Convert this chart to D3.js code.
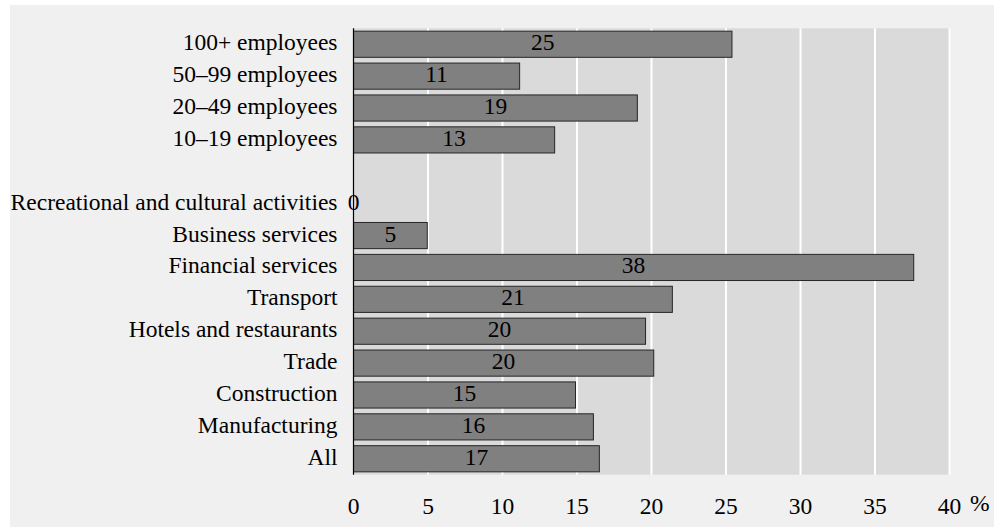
<!DOCTYPE html>
<html>
<head>
<meta charset="utf-8">
<script src="https://cdn.jsdelivr.net/npm/d3@7"></script>
<style>
  html, body { margin: 0; padding: 0; background: #ffffff; }
  svg { display: block; }
</style>
</head>
<body>
<svg id="chart" width="1006" height="530"></svg>
<script>
const categories = [
  "100+ employees",
  "50\u201399 employees",
  "20\u201349 employees",
  "10\u201319 employees",
  "",
  "Recreational and cultural activities",
  "Business services",
  "Financial services",
  "Transport",
  "Hotels and restaurants",
  "Trade",
  "Construction",
  "Manufacturing",
  "All"
];
const values = [25.4, 11.15, 19.05, 13.5, null, 0, 4.95, 37.6, 21.4, 19.6, 20.15, 14.9, 16.1, 16.5];
const valueLabels = ["25", "11", "19", "13", "", "0", "5", "38", "21", "20", "20", "15", "16", "17"];
const xTicks = [0, 5, 10, 15, 20, 25, 30, 35, 40];

const FONT = "'Liberation Serif', Tinos, 'Times New Roman', Times, 'DejaVu Serif', serif";
const FS = 23.5;
const svg = d3.select("#chart").style("font-family", FONT);
const pLeft = 353.5, pRight = 949.5, pTop = 28.3, pBottom = 474.7;

// outer panel
svg.append("rect").attr("x", 10).attr("y", 5).attr("width", 984).attr("height", 522).attr("fill", "#f0f0f0");

const x = d3.scaleLinear().domain([0, 40]).range([pLeft, pRight]);
const y = d3.scaleBand().domain(d3.range(categories.length)).range([pTop, pBottom]).paddingInner(0.18).paddingOuter(0.09);

// plot background
svg.append("rect").attr("x", pLeft).attr("y", pTop).attr("width", pRight - pLeft).attr("height", pBottom - pTop).attr("fill", "#dadada");

// gridlines
svg.append("g").selectAll("line").data(xTicks.slice(1)).join("line")
  .attr("x1", d => x(d)).attr("x2", d => x(d))
  .attr("y1", pTop).attr("y2", pBottom)
  .attr("stroke", "#ffffff").attr("stroke-width", 2);

const rows = categories.map((c, i) => ({c, i, v: values[i], lab: valueLabels[i]}));

// bars
svg.append("g").selectAll("rect").data(rows.filter(d => d.v !== null && d.v > 0)).join("rect")
  .attr("x", x(0)).attr("y", d => y(d.i))
  .attr("width", d => x(d.v) - x(0)).attr("height", y.bandwidth())
  .attr("fill", "#808080").attr("stroke", "#262626").attr("stroke-width", 1);

// y axis line
svg.append("line").attr("x1", pLeft).attr("x2", pLeft).attr("y1", pTop).attr("y2", pBottom)
  .attr("stroke", "#000").attr("stroke-width", 1.2);

const mid = i => y(i) + y.bandwidth() / 2;

// category labels
svg.append("g").selectAll("text").data(rows.filter(d => d.c !== "")).join("text")
  .attr("x", pLeft - 16).attr("y", d => mid(d.i) + 6)
  .attr("text-anchor", "end")
  .attr("font-size", FS).attr("font-family", FONT).attr("fill", "#000")
  .text(d => d.c);

// value labels
svg.append("g").selectAll("text").data(rows.filter(d => d.v !== null)).join("text")
  .attr("x", d => (x(0) + x(d.v)) / 2).attr("y", d => mid(d.i) + 6)
  .attr("text-anchor", "middle")
  .attr("font-size", FS).attr("font-family", FONT).attr("fill", "#000")
  .text(d => d.lab);

// x tick labels
svg.append("g").selectAll("text").data(xTicks).join("text")
  .attr("x", d => x(d)).attr("y", 514)
  .attr("text-anchor", "middle").attr("font-size", FS).attr("font-family", FONT).attr("fill", "#000")
  .text(d => d);

svg.append("text").attr("x", 970).attr("y", 510.5).attr("font-size", FS).attr("font-family", FONT).attr("fill", "#000").text("%");
</script>
</body>
</html>
